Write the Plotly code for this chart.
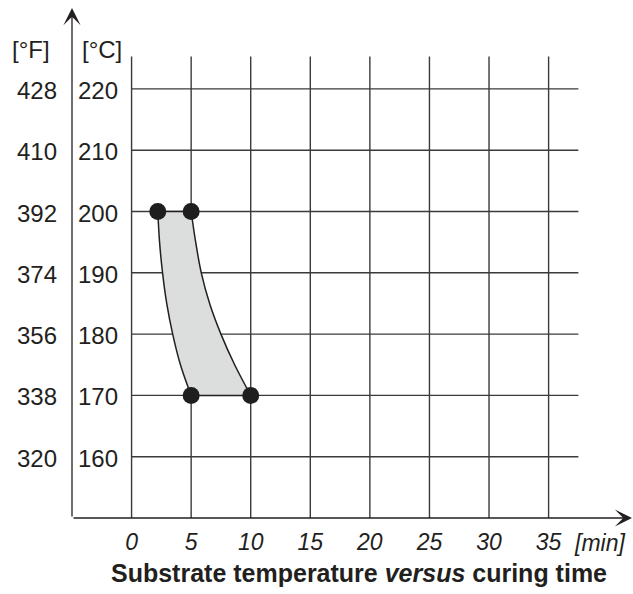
import plotly.graph_objects as go

# ---- data ----
TIME_TICKS = [0, 5, 10, 15, 20, 25, 30, 35]
TIME_LABELS = ["0", "5", "10", "15", "20", "25", "30", "35"]
TEMP_C_TICKS = [160, 170, 180, 190, 200, 210, 220]
TEMP_C_LABELS = ["160", "170", "180", "190", "200", "210", "220"]
TEMP_F_LABELS = ["320", "338", "356", "374", "392", "410", "428"]

# curing window boundary (time [min], temperature [°C])
LEFT_EDGE_T = [2.2, 2.35, 2.6, 2.95, 3.45, 4.1, 5]
LEFT_EDGE_C = [200, 195, 190, 185, 180, 175, 170]
RIGHT_EDGE_T = [5, 5.38, 5.85, 6.55, 7.5, 8.65, 10]
RIGHT_EDGE_C = [200, 195, 190, 185, 180, 175, 170]

DOT_T = [2.2, 5, 5, 10]
DOT_C = [200, 200, 170, 170]

# axis extents
X_MIN, X_MAX = -5, 42
Y_MIN, Y_MAX = 150, 233.2
GRID_X_END = 37.5
GRID_Y_END = 225.3

FONT = "Liberation Sans, Arial, sans-serif"
INK = "#231f20"
GRID = "#3a3a3a"

fig = go.Figure()

# grid lines
gx, gy = [], []
for t in TIME_TICKS:
    gx += [t, t, None]
    gy += [Y_MIN, GRID_Y_END, None]
for c in TEMP_C_TICKS:
    gx += [0, GRID_X_END, None]
    gy += [c, c, None]
fig.add_trace(go.Scatter(x=gx, y=gy, mode="lines",
                         line=dict(color=GRID, width=1.4),
                         hoverinfo="skip", showlegend=False))

# filled window (area)
poly_t = LEFT_EDGE_T + RIGHT_EDGE_T[::-1] + [LEFT_EDGE_T[0]]
poly_c = LEFT_EDGE_C + RIGHT_EDGE_C[::-1] + [LEFT_EDGE_C[0]]
fig.add_trace(go.Scatter(x=poly_t, y=poly_c, mode="lines", fill="toself",
                         fillcolor="#dcdedd", line=dict(width=0),
                         hoverinfo="skip", showlegend=False))

# window outline: curved edges + straight top/bottom
for xs, ys in [(LEFT_EDGE_T, LEFT_EDGE_C), (RIGHT_EDGE_T, RIGHT_EDGE_C)]:
    fig.add_trace(go.Scatter(x=xs, y=ys, mode="lines",
                             line=dict(color=INK, width=1.5, shape="spline", smoothing=1.0),
                             hoverinfo="skip", showlegend=False))
fig.add_trace(go.Scatter(x=[DOT_T[0], DOT_T[1], None, DOT_T[2], DOT_T[3]],
                         y=[DOT_C[0], DOT_C[1], None, DOT_C[2], DOT_C[3]], mode="lines",
                         line=dict(color=INK, width=1.5),
                         hoverinfo="skip", showlegend=False))

# corner dots
fig.add_trace(go.Scatter(x=DOT_T, y=DOT_C, mode="markers",
                         marker=dict(size=17, color="#1e1e1e", line=dict(width=0)),
                         cliponaxis=False, hoverinfo="skip", showlegend=False))

annotations = []
# axis arrows
for (xt, yt) in [(X_MAX, Y_MIN), (X_MIN, Y_MAX)]:
    annotations.append(dict(x=xt, y=yt, ax=X_MIN, ay=Y_MIN, xref="x", yref="y",
                            axref="x", ayref="y", text="", showarrow=True,
                            arrowhead=3, arrowsize=2.2, arrowwidth=1.3, arrowcolor=INK,
                            standoff=0, startstandoff=0))

# y labels: °C and °F
for c, lc, lf in zip(TEMP_C_TICKS, TEMP_C_LABELS, TEMP_F_LABELS):
    annotations.append(dict(x=0, y=c, xref="x", yref="y", text=lc, showarrow=False,
                            xanchor="right", yanchor="middle", xshift=-12, yshift=-1.5,
                            font=dict(family=FONT, size=24, color=INK)))
    annotations.append(dict(x=X_MIN, y=c, xref="x", yref="y", text=lf, showarrow=False,
                            xanchor="right", yanchor="middle", xshift=-13, yshift=-1.5,
                            font=dict(family=FONT, size=24, color=INK)))

# unit headers
annotations.append(dict(x=0, y=1, xref="paper", yref="paper", text="[°C]",
                        showarrow=False, xanchor="center", yanchor="middle",
                        xshift=102 - 71.7, yshift=-(50 - 8.3),
                        font=dict(family=FONT, size=24, color=INK)))
annotations.append(dict(x=0, y=1, xref="paper", yref="paper", text="[°F]",
                        showarrow=False, xanchor="center", yanchor="middle",
                        xshift=31 - 71.7, yshift=-(50 - 8.3),
                        font=dict(family=FONT, size=24, color=INK)))
annotations.append(dict(x=GRID_X_END, y=Y_MIN, xref="x", yref="y", text="[min]",
                        showarrow=False, xanchor="left", yanchor="middle",
                        xshift=-6, yshift=-25,
                        font=dict(family=FONT, size=23, color=INK, style="italic")))
# caption
annotations.append(dict(x=0.513, y=0, xref="paper", yref="paper",
                        text="Substrate temperature <i>versus</i> curing time",
                        showarrow=False, xanchor="center", yanchor="middle",
                        yshift=-(573 - 518.3),
                        font=dict(family=FONT, size=25, color=INK, weight="bold")))

fig.update_layout(
    width=633, height=594,
    margin=dict(l=71.7, r=1, t=8.3, b=75.7, pad=0),
    paper_bgcolor="white", plot_bgcolor="white",
    showlegend=False,
    annotations=annotations,
    xaxis=dict(range=[X_MIN, X_MAX], showgrid=False, zeroline=False, showline=False,
               tickmode="array", tickvals=TIME_TICKS, ticktext=TIME_LABELS, ticks="",
               ticklabelstandoff=8,
               tickfont=dict(family=FONT, size=23, color=INK, style="italic"),
               fixedrange=True),
    yaxis=dict(range=[Y_MIN, Y_MAX], showgrid=False, zeroline=False, showline=False,
               showticklabels=False, ticks="", fixedrange=True),
)

fig.write_html("out.html", config={"displayModeBar": False},
               post_script="document.body.style.margin='0';document.body.style.overflow='hidden';")
